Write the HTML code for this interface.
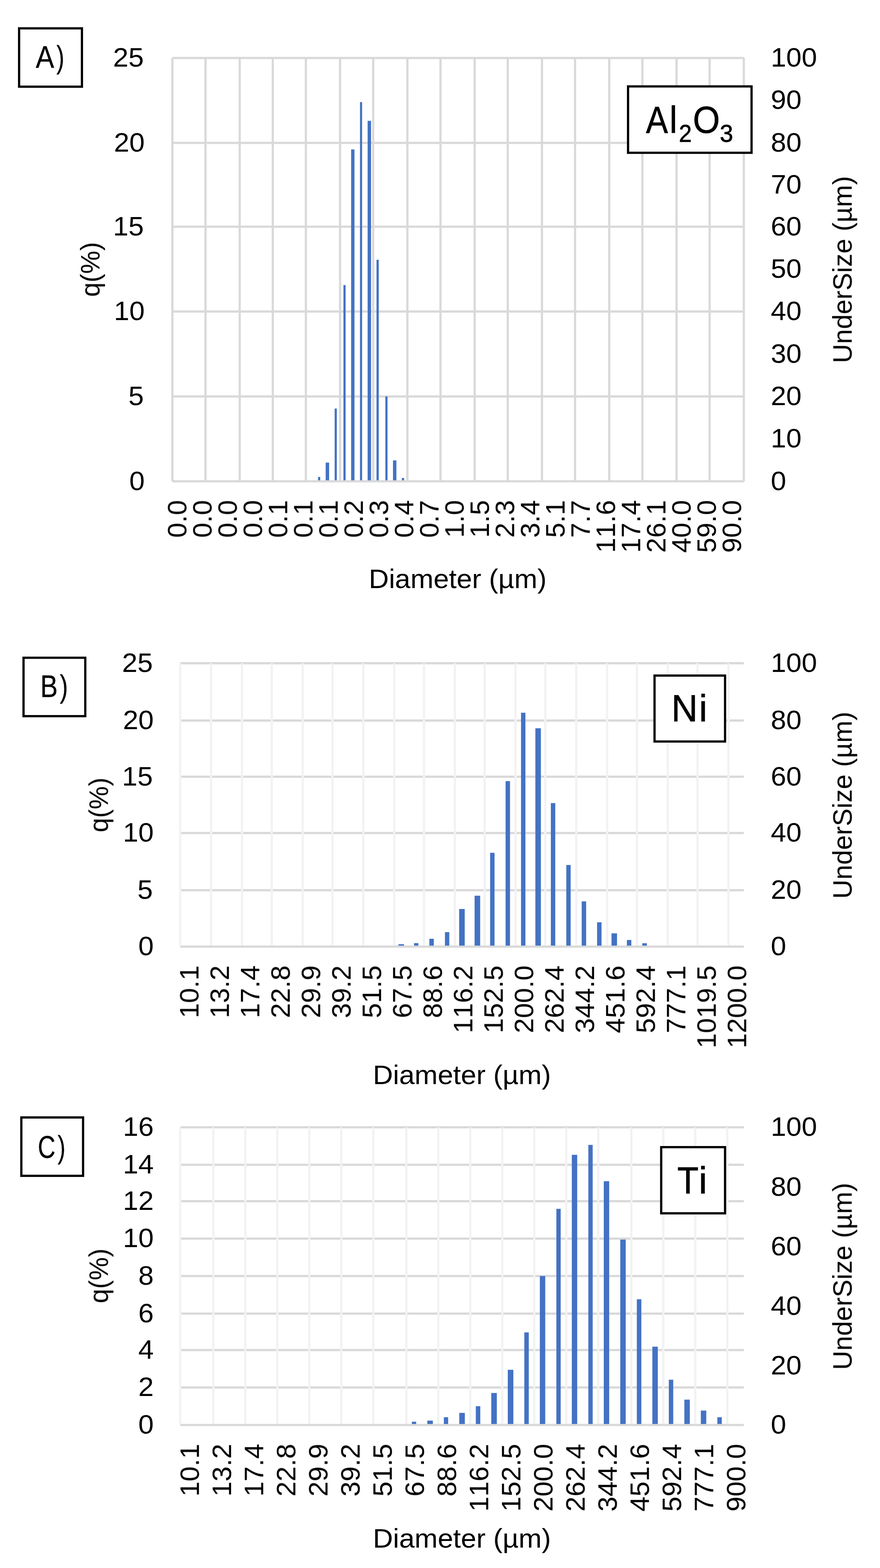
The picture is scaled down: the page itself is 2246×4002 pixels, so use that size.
<!DOCTYPE html>
<html lang="en">
<head>
<meta charset="utf-8">
<title>Particle size distributions: Al2O3, Ni, Ti</title>
<style>
html,body{margin:0;padding:0;background:#fff;}
body{width:2246px;height:4002px;overflow:hidden;}
svg{display:block;}
svg text{filter:blur(0.6px);}
svg text{font-family:"Liberation Sans", sans-serif;fill:#000;font-kerning:none;font-variant-ligatures:none;white-space:pre;stroke:none;}
svg .lb text{stroke:#000;stroke-width:0.4px;}
svg .nb text{stroke:#000;stroke-width:1.0px;}
</style>
</head>
<body>
<svg width="2246" height="4002" viewBox="0 0 2246 4002">
<rect x="0" y="0" width="2246" height="4002" fill="#fff"/>
<g id="chart-A">
<g class="grid">
<rect x="440.00" y="145.18" width="1458.60" height="5.65" fill="#D9D9D9"/>
<rect x="440.00" y="361.88" width="1458.60" height="5.65" fill="#D9D9D9"/>
<rect x="440.00" y="575.77" width="1458.60" height="5.65" fill="#D9D9D9"/>
<rect x="440.00" y="792.27" width="1458.60" height="5.65" fill="#D9D9D9"/>
<rect x="440.00" y="1009.07" width="1458.60" height="5.65" fill="#D9D9D9"/>
<rect x="440.00" y="1225.58" width="1458.60" height="5.65" fill="#D9D9D9"/>
<rect x="437.18" y="148.00" width="5.65" height="1080.40" fill="#D9D9D9"/>
<rect x="521.64" y="148.00" width="5.65" height="1080.40" fill="#D9D9D9"/>
<rect x="608.93" y="148.00" width="5.65" height="1080.40" fill="#D9D9D9"/>
<rect x="693.39" y="148.00" width="5.65" height="1080.40" fill="#D9D9D9"/>
<rect x="777.86" y="148.00" width="5.65" height="1080.40" fill="#D9D9D9"/>
<rect x="865.15" y="148.00" width="5.65" height="1080.40" fill="#D9D9D9"/>
<rect x="949.61" y="148.00" width="5.65" height="1080.40" fill="#D9D9D9"/>
<rect x="1036.90" y="148.00" width="5.65" height="1080.40" fill="#D9D9D9"/>
<rect x="1121.37" y="148.00" width="5.65" height="1080.40" fill="#D9D9D9"/>
<rect x="1208.65" y="148.00" width="5.65" height="1080.40" fill="#D9D9D9"/>
<rect x="1293.12" y="148.00" width="5.65" height="1080.40" fill="#D9D9D9"/>
<rect x="1380.40" y="148.00" width="5.65" height="1080.40" fill="#D9D9D9"/>
<rect x="1464.87" y="148.00" width="5.65" height="1080.40" fill="#D9D9D9"/>
<rect x="1552.15" y="148.00" width="5.65" height="1080.40" fill="#D9D9D9"/>
<rect x="1636.62" y="148.00" width="5.65" height="1080.40" fill="#D9D9D9"/>
<rect x="1723.90" y="148.00" width="5.65" height="1080.40" fill="#D9D9D9"/>
<rect x="1808.37" y="148.00" width="5.65" height="1080.40" fill="#D9D9D9"/>
<rect x="1895.66" y="148.00" width="5.65" height="1080.40" fill="#D9D9D9"/>
</g>
<g class="bars">
<rect x="811.70" y="1217.30" width="5.60" height="8.58" fill="#4472C4"/>
<rect x="831.20" y="1180.70" width="8.80" height="45.17" fill="#4472C4"/>
<rect x="854.10" y="1042.70" width="5.60" height="183.17" fill="#4472C4"/>
<rect x="876.50" y="727.60" width="5.60" height="498.27" fill="#4472C4"/>
<rect x="896.20" y="381.40" width="8.50" height="844.48" fill="#4472C4"/>
<rect x="918.80" y="260.50" width="5.40" height="965.38" fill="#4472C4"/>
<rect x="938.30" y="308.40" width="8.70" height="917.48" fill="#4472C4"/>
<rect x="960.90" y="663.00" width="5.80" height="562.88" fill="#4472C4"/>
<rect x="983.50" y="1011.80" width="5.60" height="214.08" fill="#4472C4"/>
<rect x="1003.00" y="1175.10" width="8.70" height="50.78" fill="#4472C4"/>
<rect x="1025.60" y="1220.00" width="5.80" height="5.88" fill="#4472C4"/>
</g>
<g class="ticks">
<text x="288.51" y="170.10" font-size="68.20" textLength="78.59" lengthAdjust="spacingAndGlyphs">25</text>
<text x="290.71" y="386.80" font-size="68.20" textLength="78.59" lengthAdjust="spacingAndGlyphs">20</text>
<text x="288.51" y="600.70" font-size="68.20" textLength="78.59" lengthAdjust="spacingAndGlyphs">15</text>
<text x="290.71" y="817.20" font-size="68.20" textLength="78.59" lengthAdjust="spacingAndGlyphs">10</text>
<text x="327.80" y="1034.00" font-size="68.20" textLength="39.30" lengthAdjust="spacingAndGlyphs">5</text>
<text x="330.00" y="1250.50" font-size="68.20" textLength="39.30" lengthAdjust="spacingAndGlyphs">0</text>
<text x="1967.30" y="170.10" font-size="68.20" textLength="117.89" lengthAdjust="spacingAndGlyphs">100</text>
<text x="1967.30" y="278.45" font-size="68.20" textLength="78.59" lengthAdjust="spacingAndGlyphs">90</text>
<text x="1967.30" y="386.80" font-size="68.20" textLength="78.59" lengthAdjust="spacingAndGlyphs">80</text>
<text x="1967.30" y="493.75" font-size="68.20" textLength="78.59" lengthAdjust="spacingAndGlyphs">70</text>
<text x="1967.30" y="600.70" font-size="68.20" textLength="78.59" lengthAdjust="spacingAndGlyphs">60</text>
<text x="1967.30" y="708.95" font-size="68.20" textLength="78.59" lengthAdjust="spacingAndGlyphs">50</text>
<text x="1967.30" y="817.20" font-size="68.20" textLength="78.59" lengthAdjust="spacingAndGlyphs">40</text>
<text x="1967.30" y="925.60" font-size="68.20" textLength="78.59" lengthAdjust="spacingAndGlyphs">30</text>
<text x="1967.30" y="1034.00" font-size="68.20" textLength="78.59" lengthAdjust="spacingAndGlyphs">20</text>
<text x="1967.30" y="1142.25" font-size="68.20" textLength="78.59" lengthAdjust="spacingAndGlyphs">10</text>
<text x="1967.30" y="1250.50" font-size="68.20" textLength="39.30" lengthAdjust="spacingAndGlyphs">0</text>
<text transform="translate(475.73 1372.53) rotate(-90)" font-size="68.20" textLength="96.13" lengthAdjust="spacingAndGlyphs">0.0</text>
<text transform="translate(540.08 1372.53) rotate(-90)" font-size="68.20" textLength="96.13" lengthAdjust="spacingAndGlyphs">0.0</text>
<text transform="translate(604.42 1372.53) rotate(-90)" font-size="68.20" textLength="96.13" lengthAdjust="spacingAndGlyphs">0.0</text>
<text transform="translate(668.77 1372.53) rotate(-90)" font-size="68.20" textLength="96.13" lengthAdjust="spacingAndGlyphs">0.0</text>
<text transform="translate(733.12 1372.53) rotate(-90)" font-size="68.20" textLength="96.13" lengthAdjust="spacingAndGlyphs">0.1</text>
<text transform="translate(797.48 1372.53) rotate(-90)" font-size="68.20" textLength="96.13" lengthAdjust="spacingAndGlyphs">0.1</text>
<text transform="translate(861.83 1372.53) rotate(-90)" font-size="68.20" textLength="96.13" lengthAdjust="spacingAndGlyphs">0.1</text>
<text transform="translate(926.17 1372.53) rotate(-90)" font-size="68.20" textLength="96.13" lengthAdjust="spacingAndGlyphs">0.2</text>
<text transform="translate(990.52 1372.53) rotate(-90)" font-size="68.20" textLength="96.13" lengthAdjust="spacingAndGlyphs">0.3</text>
<text transform="translate(1054.88 1372.53) rotate(-90)" font-size="68.20" textLength="96.13" lengthAdjust="spacingAndGlyphs">0.4</text>
<text transform="translate(1119.22 1372.53) rotate(-90)" font-size="68.20" textLength="96.13" lengthAdjust="spacingAndGlyphs">0.7</text>
<text transform="translate(1183.58 1372.53) rotate(-90)" font-size="68.20" textLength="96.13" lengthAdjust="spacingAndGlyphs">1.0</text>
<text transform="translate(1247.92 1372.53) rotate(-90)" font-size="68.20" textLength="96.13" lengthAdjust="spacingAndGlyphs">1.5</text>
<text transform="translate(1312.28 1372.53) rotate(-90)" font-size="68.20" textLength="96.13" lengthAdjust="spacingAndGlyphs">2.3</text>
<text transform="translate(1376.62 1372.53) rotate(-90)" font-size="68.20" textLength="96.13" lengthAdjust="spacingAndGlyphs">3.4</text>
<text transform="translate(1440.97 1372.53) rotate(-90)" font-size="68.20" textLength="96.13" lengthAdjust="spacingAndGlyphs">5.1</text>
<text transform="translate(1505.32 1372.53) rotate(-90)" font-size="68.20" textLength="96.13" lengthAdjust="spacingAndGlyphs">7.7</text>
<text transform="translate(1569.68 1411.00) rotate(-90)" font-size="68.20" textLength="134.60" lengthAdjust="spacingAndGlyphs">11.6</text>
<text transform="translate(1634.03 1411.00) rotate(-90)" font-size="68.20" textLength="134.60" lengthAdjust="spacingAndGlyphs">17.4</text>
<text transform="translate(1698.38 1411.00) rotate(-90)" font-size="68.20" textLength="134.60" lengthAdjust="spacingAndGlyphs">26.1</text>
<text transform="translate(1762.72 1411.00) rotate(-90)" font-size="68.20" textLength="134.60" lengthAdjust="spacingAndGlyphs">40.0</text>
<text transform="translate(1827.07 1411.00) rotate(-90)" font-size="68.20" textLength="134.60" lengthAdjust="spacingAndGlyphs">59.0</text>
<text transform="translate(1891.43 1411.00) rotate(-90)" font-size="68.20" textLength="134.60" lengthAdjust="spacingAndGlyphs">90.0</text>
</g>
<g class="titles">
<text transform="translate(254.00 757.58) rotate(-90)" font-size="68.20" textLength="139.68" lengthAdjust="spacingAndGlyphs">q(%)</text>
<text transform="translate(2173.80 926.85) rotate(-90)" font-size="68.20" textLength="477.56" lengthAdjust="spacingAndGlyphs">UnderSize (µm)</text>
<text x="941.29" y="1501.40" font-size="68.20" textLength="453.70" lengthAdjust="spacingAndGlyphs">Diameter (µm)</text>
</g>
<g class="lb">
<rect x="48.75" y="72.35" width="160.40" height="148.90" fill="#fff" stroke="#000" stroke-width="5.7"/>
<text><tspan x="91.26" y="172.80" font-size="80.00" textLength="46.98" lengthAdjust="spacingAndGlyphs">A</tspan><tspan x="144.25" y="172.80" font-size="80.00" textLength="19.84" lengthAdjust="spacingAndGlyphs">)</tspan></text>
</g>
<g class="nb">
<rect x="1602.95" y="220.55" width="315.20" height="169.40" fill="#fff" stroke="#000" stroke-width="5.7"/>
<text><tspan x="1648.64" y="338.90" font-size="96.00" textLength="56.03" lengthAdjust="spacingAndGlyphs">A</tspan><tspan x="1709.07" y="338.90" font-size="96.00" textLength="19.21" lengthAdjust="spacingAndGlyphs">l</tspan><tspan x="1732.63" y="361.50" font-size="63.00" textLength="32.84" lengthAdjust="spacingAndGlyphs">2</tspan><tspan x="1768.51" y="338.90" font-size="96.00" textLength="68.82" lengthAdjust="spacingAndGlyphs">O</tspan><tspan x="1837.28" y="361.50" font-size="63.00" textLength="33.90" lengthAdjust="spacingAndGlyphs">3</tspan></text>
</g>
</g>
<g id="chart-B">
<g class="grid">
<rect x="460.00" y="1689.97" width="1438.50" height="5.65" fill="#D9D9D9"/>
<rect x="460.00" y="1836.17" width="1438.50" height="5.65" fill="#D9D9D9"/>
<rect x="460.00" y="1979.58" width="1438.50" height="5.65" fill="#D9D9D9"/>
<rect x="460.00" y="2123.38" width="1438.50" height="5.65" fill="#D9D9D9"/>
<rect x="460.00" y="2269.28" width="1438.50" height="5.65" fill="#D9D9D9"/>
<rect x="457.18" y="1692.80" width="5.65" height="720.38" fill="#F2F2F2"/>
<rect x="536.00" y="1692.80" width="5.65" height="720.38" fill="#F2F2F2"/>
<rect x="614.82" y="1692.80" width="5.65" height="720.38" fill="#F2F2F2"/>
<rect x="690.83" y="1692.80" width="5.65" height="720.38" fill="#F2F2F2"/>
<rect x="769.65" y="1692.80" width="5.65" height="720.38" fill="#F2F2F2"/>
<rect x="845.66" y="1692.80" width="5.65" height="720.38" fill="#F2F2F2"/>
<rect x="924.48" y="1692.80" width="5.65" height="720.38" fill="#F2F2F2"/>
<rect x="1003.30" y="1692.80" width="5.65" height="720.38" fill="#F2F2F2"/>
<rect x="1079.31" y="1692.80" width="5.65" height="720.38" fill="#F2F2F2"/>
<rect x="1158.13" y="1692.80" width="5.65" height="720.38" fill="#F2F2F2"/>
<rect x="1234.14" y="1692.80" width="5.65" height="720.38" fill="#F2F2F2"/>
<rect x="1312.97" y="1692.80" width="5.65" height="720.38" fill="#F2F2F2"/>
<rect x="1388.97" y="1692.80" width="5.65" height="720.38" fill="#F2F2F2"/>
<rect x="1467.80" y="1692.80" width="5.65" height="720.38" fill="#F2F2F2"/>
<rect x="1546.62" y="1692.80" width="5.65" height="720.38" fill="#F2F2F2"/>
<rect x="1622.63" y="1692.80" width="5.65" height="720.38" fill="#F2F2F2"/>
<rect x="1701.45" y="1692.80" width="5.65" height="720.38" fill="#F2F2F2"/>
<rect x="1777.46" y="1692.80" width="5.65" height="720.38" fill="#F2F2F2"/>
<rect x="1856.28" y="1692.80" width="5.65" height="720.38" fill="#F2F2F2"/>
<rect x="460.00" y="2413.18" width="1438.50" height="5.65" fill="#D9D9D9"/>
</g>
<g class="bars">
<rect x="1017.00" y="2409.90" width="14.20" height="3.58" fill="#4472C4"/>
<rect x="1056.80" y="2407.10" width="11.00" height="6.38" fill="#4472C4"/>
<rect x="1095.80" y="2396.10" width="11.40" height="17.38" fill="#4472C4"/>
<rect x="1135.60" y="2379.10" width="11.10" height="34.38" fill="#4472C4"/>
<rect x="1171.90" y="2320.00" width="14.20" height="93.48" fill="#4472C4"/>
<rect x="1211.30" y="2286.10" width="14.20" height="127.38" fill="#4472C4"/>
<rect x="1250.90" y="2176.60" width="11.30" height="236.88" fill="#4472C4"/>
<rect x="1290.40" y="1993.70" width="11.30" height="419.78" fill="#4472C4"/>
<rect x="1329.80" y="1819.10" width="11.20" height="594.38" fill="#4472C4"/>
<rect x="1366.40" y="1858.80" width="14.10" height="554.68" fill="#4472C4"/>
<rect x="1405.90" y="2049.70" width="11.30" height="363.78" fill="#4472C4"/>
<rect x="1445.30" y="2207.70" width="11.20" height="205.78" fill="#4472C4"/>
<rect x="1484.60" y="2300.60" width="11.40" height="112.88" fill="#4472C4"/>
<rect x="1523.90" y="2354.00" width="11.40" height="59.48" fill="#4472C4"/>
<rect x="1560.70" y="2382.20" width="14.10" height="31.28" fill="#4472C4"/>
<rect x="1600.00" y="2399.10" width="11.30" height="14.38" fill="#4472C4"/>
<rect x="1639.30" y="2407.40" width="11.60" height="6.08" fill="#4472C4"/>
</g>
<g class="ticks">
<text x="311.51" y="1714.90" font-size="68.20" textLength="78.59" lengthAdjust="spacingAndGlyphs">25</text>
<text x="313.71" y="1861.10" font-size="68.20" textLength="78.59" lengthAdjust="spacingAndGlyphs">20</text>
<text x="311.51" y="2004.50" font-size="68.20" textLength="78.59" lengthAdjust="spacingAndGlyphs">15</text>
<text x="313.71" y="2148.30" font-size="68.20" textLength="78.59" lengthAdjust="spacingAndGlyphs">10</text>
<text x="350.80" y="2294.20" font-size="68.20" textLength="39.30" lengthAdjust="spacingAndGlyphs">5</text>
<text x="353.00" y="2438.10" font-size="68.20" textLength="39.30" lengthAdjust="spacingAndGlyphs">0</text>
<text x="1967.30" y="1714.90" font-size="68.20" textLength="117.89" lengthAdjust="spacingAndGlyphs">100</text>
<text x="1967.30" y="1861.10" font-size="68.20" textLength="78.59" lengthAdjust="spacingAndGlyphs">80</text>
<text x="1967.30" y="2004.50" font-size="68.20" textLength="78.59" lengthAdjust="spacingAndGlyphs">60</text>
<text x="1967.30" y="2148.30" font-size="68.20" textLength="78.59" lengthAdjust="spacingAndGlyphs">40</text>
<text x="1967.30" y="2294.20" font-size="68.20" textLength="78.59" lengthAdjust="spacingAndGlyphs">20</text>
<text x="1967.30" y="2438.10" font-size="68.20" textLength="39.30" lengthAdjust="spacingAndGlyphs">0</text>
<text transform="translate(506.63 2598.60) rotate(-90)" font-size="68.20" textLength="134.60" lengthAdjust="spacingAndGlyphs">10.1</text>
<text transform="translate(584.29 2598.60) rotate(-90)" font-size="68.20" textLength="134.60" lengthAdjust="spacingAndGlyphs">13.2</text>
<text transform="translate(661.95 2598.60) rotate(-90)" font-size="68.20" textLength="134.60" lengthAdjust="spacingAndGlyphs">17.4</text>
<text transform="translate(739.61 2598.60) rotate(-90)" font-size="68.20" textLength="134.60" lengthAdjust="spacingAndGlyphs">22.8</text>
<text transform="translate(817.27 2598.60) rotate(-90)" font-size="68.20" textLength="134.60" lengthAdjust="spacingAndGlyphs">29.9</text>
<text transform="translate(894.93 2598.60) rotate(-90)" font-size="68.20" textLength="134.60" lengthAdjust="spacingAndGlyphs">39.2</text>
<text transform="translate(972.59 2598.60) rotate(-90)" font-size="68.20" textLength="134.60" lengthAdjust="spacingAndGlyphs">51.5</text>
<text transform="translate(1050.25 2598.60) rotate(-90)" font-size="68.20" textLength="134.60" lengthAdjust="spacingAndGlyphs">67.5</text>
<text transform="translate(1127.91 2598.60) rotate(-90)" font-size="68.20" textLength="134.60" lengthAdjust="spacingAndGlyphs">88.6</text>
<text transform="translate(1205.57 2637.06) rotate(-90)" font-size="68.20" textLength="173.06" lengthAdjust="spacingAndGlyphs">116.2</text>
<text transform="translate(1283.23 2637.06) rotate(-90)" font-size="68.20" textLength="173.06" lengthAdjust="spacingAndGlyphs">152.5</text>
<text transform="translate(1360.89 2637.06) rotate(-90)" font-size="68.20" textLength="173.06" lengthAdjust="spacingAndGlyphs">200.0</text>
<text transform="translate(1438.55 2637.06) rotate(-90)" font-size="68.20" textLength="173.06" lengthAdjust="spacingAndGlyphs">262.4</text>
<text transform="translate(1516.21 2637.06) rotate(-90)" font-size="68.20" textLength="173.06" lengthAdjust="spacingAndGlyphs">344.2</text>
<text transform="translate(1593.87 2637.06) rotate(-90)" font-size="68.20" textLength="173.06" lengthAdjust="spacingAndGlyphs">451.6</text>
<text transform="translate(1671.53 2637.06) rotate(-90)" font-size="68.20" textLength="173.06" lengthAdjust="spacingAndGlyphs">592.4</text>
<text transform="translate(1749.19 2637.06) rotate(-90)" font-size="68.20" textLength="173.06" lengthAdjust="spacingAndGlyphs">777.1</text>
<text transform="translate(1826.85 2675.52) rotate(-90)" font-size="68.20" textLength="211.52" lengthAdjust="spacingAndGlyphs">1019.5</text>
<text transform="translate(1904.51 2675.52) rotate(-90)" font-size="68.20" textLength="211.52" lengthAdjust="spacingAndGlyphs">1200.0</text>
</g>
<g class="titles">
<text transform="translate(275.50 2124.28) rotate(-90)" font-size="68.20" textLength="139.68" lengthAdjust="spacingAndGlyphs">q(%)</text>
<text transform="translate(2173.80 2294.05) rotate(-90)" font-size="68.20" textLength="477.56" lengthAdjust="spacingAndGlyphs">UnderSize (µm)</text>
<text x="951.68" y="2767.00" font-size="68.20" textLength="454.51" lengthAdjust="spacingAndGlyphs">Diameter (µm)</text>
</g>
<g class="lb">
<rect x="60.05" y="1678.75" width="157.60" height="149.10" fill="#fff" stroke="#000" stroke-width="5.7"/>
<text><tspan x="102.81" y="1779.40" font-size="80.00" textLength="44.61" lengthAdjust="spacingAndGlyphs">B</tspan><tspan x="152.84" y="1779.40" font-size="80.00" textLength="20.60" lengthAdjust="spacingAndGlyphs">)</tspan></text>
</g>
<g class="nb">
<rect x="1670.55" y="1724.25" width="180.00" height="168.30" fill="#fff" stroke="#000" stroke-width="5.7"/>
<text><tspan x="1713.46" y="1841.30" font-size="96.00" textLength="67.23" lengthAdjust="spacingAndGlyphs">N</tspan><tspan x="1783.91" y="1841.30" font-size="96.00" textLength="21.23" lengthAdjust="spacingAndGlyphs">i</tspan></text>
</g>
</g>
<g id="chart-C">
<g class="grid">
<rect x="460.00" y="2874.38" width="1438.50" height="5.65" fill="#D9D9D9"/>
<rect x="460.00" y="2970.08" width="1438.50" height="5.65" fill="#D9D9D9"/>
<rect x="460.00" y="3062.98" width="1438.50" height="5.65" fill="#D9D9D9"/>
<rect x="460.00" y="3158.48" width="1438.50" height="5.65" fill="#D9D9D9"/>
<rect x="460.00" y="3253.98" width="1438.50" height="5.65" fill="#D9D9D9"/>
<rect x="460.00" y="3349.88" width="1438.50" height="5.65" fill="#D9D9D9"/>
<rect x="460.00" y="3442.88" width="1438.50" height="5.65" fill="#D9D9D9"/>
<rect x="460.00" y="3538.38" width="1438.50" height="5.65" fill="#D9D9D9"/>
<rect x="457.18" y="2877.20" width="5.65" height="756.98" fill="#F2F2F2"/>
<rect x="541.63" y="2877.20" width="5.65" height="756.98" fill="#F2F2F2"/>
<rect x="623.27" y="2877.20" width="5.65" height="756.98" fill="#F2F2F2"/>
<rect x="704.90" y="2877.20" width="5.65" height="756.98" fill="#F2F2F2"/>
<rect x="786.54" y="2877.20" width="5.65" height="756.98" fill="#F2F2F2"/>
<rect x="868.18" y="2877.20" width="5.65" height="756.98" fill="#F2F2F2"/>
<rect x="949.82" y="2877.20" width="5.65" height="756.98" fill="#F2F2F2"/>
<rect x="1034.27" y="2877.20" width="5.65" height="756.98" fill="#F2F2F2"/>
<rect x="1115.91" y="2877.20" width="5.65" height="756.98" fill="#F2F2F2"/>
<rect x="1197.55" y="2877.20" width="5.65" height="756.98" fill="#F2F2F2"/>
<rect x="1279.18" y="2877.20" width="5.65" height="756.98" fill="#F2F2F2"/>
<rect x="1360.82" y="2877.20" width="5.65" height="756.98" fill="#F2F2F2"/>
<rect x="1442.46" y="2877.20" width="5.65" height="756.98" fill="#F2F2F2"/>
<rect x="1524.10" y="2877.20" width="5.65" height="756.98" fill="#F2F2F2"/>
<rect x="1608.55" y="2877.20" width="5.65" height="756.98" fill="#F2F2F2"/>
<rect x="1690.19" y="2877.20" width="5.65" height="756.98" fill="#F2F2F2"/>
<rect x="1771.83" y="2877.20" width="5.65" height="756.98" fill="#F2F2F2"/>
<rect x="1853.46" y="2877.20" width="5.65" height="756.98" fill="#F2F2F2"/>
<rect x="460.00" y="3634.18" width="1438.50" height="5.65" fill="#D9D9D9"/>
</g>
<g class="bars">
<rect x="1051.20" y="3628.60" width="11.00" height="5.88" fill="#4472C4"/>
<rect x="1090.60" y="3625.80" width="14.20" height="8.68" fill="#4472C4"/>
<rect x="1132.80" y="3617.20" width="11.00" height="17.28" fill="#4472C4"/>
<rect x="1172.20" y="3606.10" width="14.20" height="28.38" fill="#4472C4"/>
<rect x="1214.40" y="3589.10" width="11.40" height="45.38" fill="#4472C4"/>
<rect x="1253.80" y="3555.30" width="14.20" height="79.18" fill="#4472C4"/>
<rect x="1296.00" y="3496.10" width="14.20" height="138.38" fill="#4472C4"/>
<rect x="1338.20" y="3400.70" width="11.40" height="233.78" fill="#4472C4"/>
<rect x="1377.80" y="3256.80" width="13.80" height="377.68" fill="#4472C4"/>
<rect x="1420.00" y="3085.30" width="11.00" height="549.18" fill="#4472C4"/>
<rect x="1459.40" y="2947.40" width="13.80" height="687.08" fill="#4472C4"/>
<rect x="1501.60" y="2922.10" width="11.10" height="712.38" fill="#4472C4"/>
<rect x="1541.00" y="3014.80" width="13.80" height="619.68" fill="#4472C4"/>
<rect x="1583.10" y="3163.80" width="13.90" height="470.68" fill="#4472C4"/>
<rect x="1625.40" y="3316.10" width="11.50" height="318.38" fill="#4472C4"/>
<rect x="1665.00" y="3437.10" width="13.90" height="197.38" fill="#4472C4"/>
<rect x="1707.00" y="3521.40" width="11.30" height="113.08" fill="#4472C4"/>
<rect x="1746.60" y="3572.30" width="14.00" height="62.18" fill="#4472C4"/>
<rect x="1788.70" y="3600.20" width="13.90" height="34.28" fill="#4472C4"/>
<rect x="1830.90" y="3617.20" width="11.30" height="17.28" fill="#4472C4"/>
</g>
<g class="ticks">
<text x="313.71" y="2899.30" font-size="68.20" textLength="78.59" lengthAdjust="spacingAndGlyphs">16</text>
<text x="313.71" y="2995.00" font-size="68.20" textLength="78.59" lengthAdjust="spacingAndGlyphs">14</text>
<text x="313.71" y="3087.90" font-size="68.20" textLength="78.59" lengthAdjust="spacingAndGlyphs">12</text>
<text x="313.71" y="3183.40" font-size="68.20" textLength="78.59" lengthAdjust="spacingAndGlyphs">10</text>
<text x="353.00" y="3278.90" font-size="68.20" textLength="39.30" lengthAdjust="spacingAndGlyphs">8</text>
<text x="353.00" y="3374.80" font-size="68.20" textLength="39.30" lengthAdjust="spacingAndGlyphs">6</text>
<text x="353.00" y="3467.80" font-size="68.20" textLength="39.30" lengthAdjust="spacingAndGlyphs">4</text>
<text x="353.00" y="3563.30" font-size="68.20" textLength="39.30" lengthAdjust="spacingAndGlyphs">2</text>
<text x="353.00" y="3659.10" font-size="68.20" textLength="39.30" lengthAdjust="spacingAndGlyphs">0</text>
<text x="1967.30" y="2899.30" font-size="68.20" textLength="117.89" lengthAdjust="spacingAndGlyphs">100</text>
<text x="1967.30" y="3052.24" font-size="68.20" textLength="78.59" lengthAdjust="spacingAndGlyphs">80</text>
<text x="1967.30" y="3204.00" font-size="68.20" textLength="78.59" lengthAdjust="spacingAndGlyphs">60</text>
<text x="1967.30" y="3355.62" font-size="68.20" textLength="78.59" lengthAdjust="spacingAndGlyphs">40</text>
<text x="1967.30" y="3507.50" font-size="68.20" textLength="78.59" lengthAdjust="spacingAndGlyphs">20</text>
<text x="1967.30" y="3659.10" font-size="68.20" textLength="39.30" lengthAdjust="spacingAndGlyphs">0</text>
<text transform="translate(507.73 3819.60) rotate(-90)" font-size="68.20" textLength="134.60" lengthAdjust="spacingAndGlyphs">10.1</text>
<text transform="translate(589.77 3819.60) rotate(-90)" font-size="68.20" textLength="134.60" lengthAdjust="spacingAndGlyphs">13.2</text>
<text transform="translate(671.81 3819.60) rotate(-90)" font-size="68.20" textLength="134.60" lengthAdjust="spacingAndGlyphs">17.4</text>
<text transform="translate(753.85 3819.60) rotate(-90)" font-size="68.20" textLength="134.60" lengthAdjust="spacingAndGlyphs">22.8</text>
<text transform="translate(835.89 3819.60) rotate(-90)" font-size="68.20" textLength="134.60" lengthAdjust="spacingAndGlyphs">29.9</text>
<text transform="translate(917.93 3819.60) rotate(-90)" font-size="68.20" textLength="134.60" lengthAdjust="spacingAndGlyphs">39.2</text>
<text transform="translate(999.97 3819.60) rotate(-90)" font-size="68.20" textLength="134.60" lengthAdjust="spacingAndGlyphs">51.5</text>
<text transform="translate(1082.01 3819.60) rotate(-90)" font-size="68.20" textLength="134.60" lengthAdjust="spacingAndGlyphs">67.5</text>
<text transform="translate(1164.05 3819.60) rotate(-90)" font-size="68.20" textLength="134.60" lengthAdjust="spacingAndGlyphs">88.6</text>
<text transform="translate(1246.09 3858.06) rotate(-90)" font-size="68.20" textLength="173.06" lengthAdjust="spacingAndGlyphs">116.2</text>
<text transform="translate(1328.13 3858.06) rotate(-90)" font-size="68.20" textLength="173.06" lengthAdjust="spacingAndGlyphs">152.5</text>
<text transform="translate(1410.17 3858.06) rotate(-90)" font-size="68.20" textLength="173.06" lengthAdjust="spacingAndGlyphs">200.0</text>
<text transform="translate(1492.21 3858.06) rotate(-90)" font-size="68.20" textLength="173.06" lengthAdjust="spacingAndGlyphs">262.4</text>
<text transform="translate(1574.25 3858.06) rotate(-90)" font-size="68.20" textLength="173.06" lengthAdjust="spacingAndGlyphs">344.2</text>
<text transform="translate(1656.29 3858.06) rotate(-90)" font-size="68.20" textLength="173.06" lengthAdjust="spacingAndGlyphs">451.6</text>
<text transform="translate(1738.33 3858.06) rotate(-90)" font-size="68.20" textLength="173.06" lengthAdjust="spacingAndGlyphs">592.4</text>
<text transform="translate(1820.37 3858.06) rotate(-90)" font-size="68.20" textLength="173.06" lengthAdjust="spacingAndGlyphs">777.1</text>
<text transform="translate(1902.41 3858.06) rotate(-90)" font-size="68.20" textLength="173.06" lengthAdjust="spacingAndGlyphs">900.0</text>
</g>
<g class="titles">
<text transform="translate(275.50 3326.28) rotate(-90)" font-size="68.20" textLength="139.68" lengthAdjust="spacingAndGlyphs">q(%)</text>
<text transform="translate(2173.80 3496.45) rotate(-90)" font-size="68.20" textLength="477.56" lengthAdjust="spacingAndGlyphs">UnderSize (µm)</text>
<text x="951.68" y="3950.10" font-size="68.20" textLength="454.51" lengthAdjust="spacingAndGlyphs">Diameter (µm)</text>
</g>
<g class="lb">
<rect x="54.45" y="2852.05" width="157.60" height="149.00" fill="#fff" stroke="#000" stroke-width="5.7"/>
<text><tspan x="96.54" y="2954.80" font-size="80.00" textLength="44.93" lengthAdjust="spacingAndGlyphs">C</tspan><tspan x="147.35" y="2954.80" font-size="80.00" textLength="19.72" lengthAdjust="spacingAndGlyphs">)</tspan></text>
</g>
<g class="nb">
<rect x="1687.55" y="2927.85" width="163.00" height="168.90" fill="#fff" stroke="#000" stroke-width="5.7"/>
<text><tspan x="1728.81" y="3045.50" font-size="96.00" textLength="54.23" lengthAdjust="spacingAndGlyphs">T</tspan><tspan x="1783.61" y="3045.50" font-size="96.00" textLength="21.23" lengthAdjust="spacingAndGlyphs">i</tspan></text>
</g>
</g>
</svg>
</body>
</html>
